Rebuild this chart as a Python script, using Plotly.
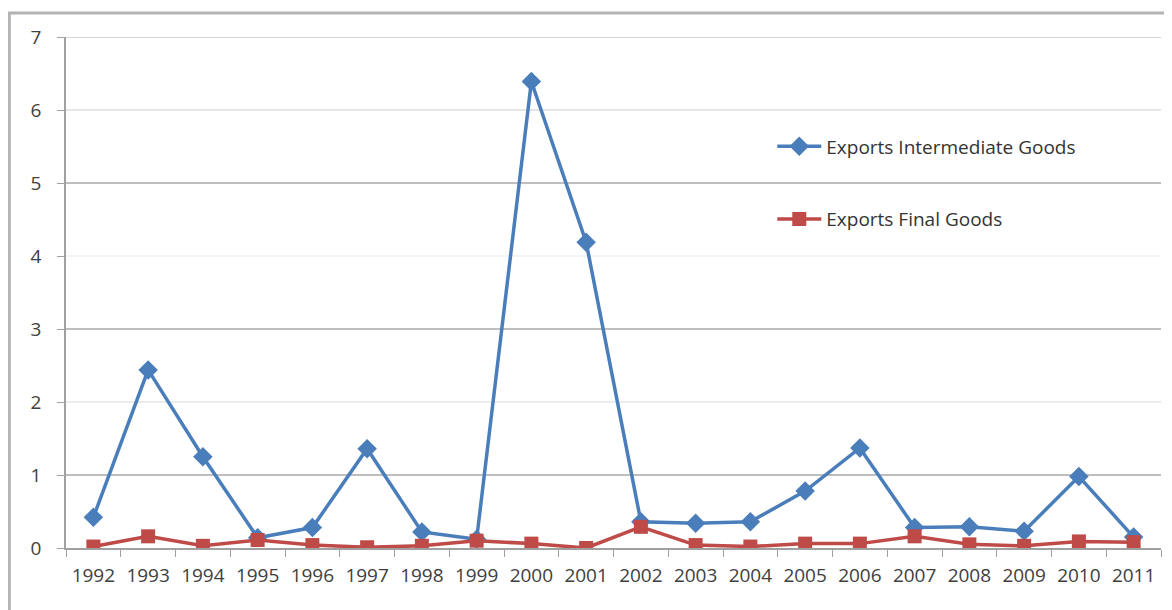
import plotly.graph_objects as go

years = [str(y) for y in range(1992, 2012)]
intermediate = [0.42, 2.44, 1.25, 0.14, 0.28, 1.36, 0.22, 0.12, 6.39, 4.19,
                0.36, 0.34, 0.36, 0.78, 1.37, 0.28, 0.29, 0.23, 0.98, 0.15]
final = [0.02, 0.16, 0.03, 0.11, 0.04, 0.01, 0.03, 0.10, 0.06, 0.0,
         0.29, 0.04, 0.02, 0.06, 0.06, 0.16, 0.05, 0.03, 0.09, 0.08]
y_ticks = [0, 1, 2, 3, 4, 5, 6, 7]
grid_colors = ["#a0a0a0", "#a8a8a8", "#e6e6e6", "#a8a8a8", "#f0f0f0", "#a8a8a8", "#dedede", "#c8c8c8"]

BLUE = "#4A7EBB"
RED = "#BE4B48"
FONT = "Open Sans"

fig = go.Figure()
fig.add_trace(go.Scatter(
    x=years, y=intermediate, name="Exports Intermediate Goods", legendgroup="a",
    mode="lines+markers", line=dict(color=BLUE, width=3.5),
    marker=dict(symbol="diamond", size=15, color=BLUE),
))
fig.add_trace(go.Scatter(
    x=years, y=final, name="Exports Final Goods", legendgroup="b",
    mode="lines+markers", line=dict(color=RED, width=3.5),
    marker=dict(symbol="square", size=14, color=RED),
))

shapes = []
for v, c in zip(y_ticks[1:], grid_colors[1:]):
    shapes.append(dict(type="line", xref="paper", yref="y", x0=0, x1=1, y0=v, y1=v,
                       line=dict(color=c, width=1.5), layer="below"))
shapes.append(dict(type="rect", xref="paper", yref="paper", x0=-0.0518, x1=1.05,
                   y0=-0.3, y1=1.047, line=dict(color="#b4b4b4", width=3),
                   fillcolor="rgba(0,0,0,0)", layer="below"))

fig.update_layout(
    width=1164, height=602,
    margin=dict(l=58, r=11, t=29, b=62),
    paper_bgcolor="white", plot_bgcolor="white",
    font=dict(family=FONT, size=16, color="#404040"),
    shapes=shapes,
    showlegend=True,
    legend=dict(x=0.645, y=0.823, xanchor="left", yanchor="top",
                bgcolor="rgba(0,0,0,0)", traceorder="grouped", tracegroupgap=45,
                font=dict(family=FONT, size=19, color="#333333"),
                itemwidth=44),
    xaxis=dict(
        type="category", tickson="boundaries", ticks="outside", ticklen=7,
        tickcolor="#a0a0a0", showline=True, linecolor="#a0a0a0", linewidth=1.5,
        showgrid=False, range=[-0.5, 19.5], ticklabelstandoff=9,
        tickangle=0, automargin=False,
        tickfont=dict(family=FONT, size=19, color="#404040"),
    ),
    yaxis=dict(
        range=[0, 7], tickvals=y_ticks, ticks="outside", ticklen=7,
        tickcolor="#a0a0a0", showline=True, linecolor="#a0a0a0", linewidth=1.5,
        showgrid=False, zeroline=False, ticklabelstandoff=12, automargin=False,
        tickfont=dict(family=FONT, size=19, color="#404040"),
    ),
)

fig.write_html("out.html")
